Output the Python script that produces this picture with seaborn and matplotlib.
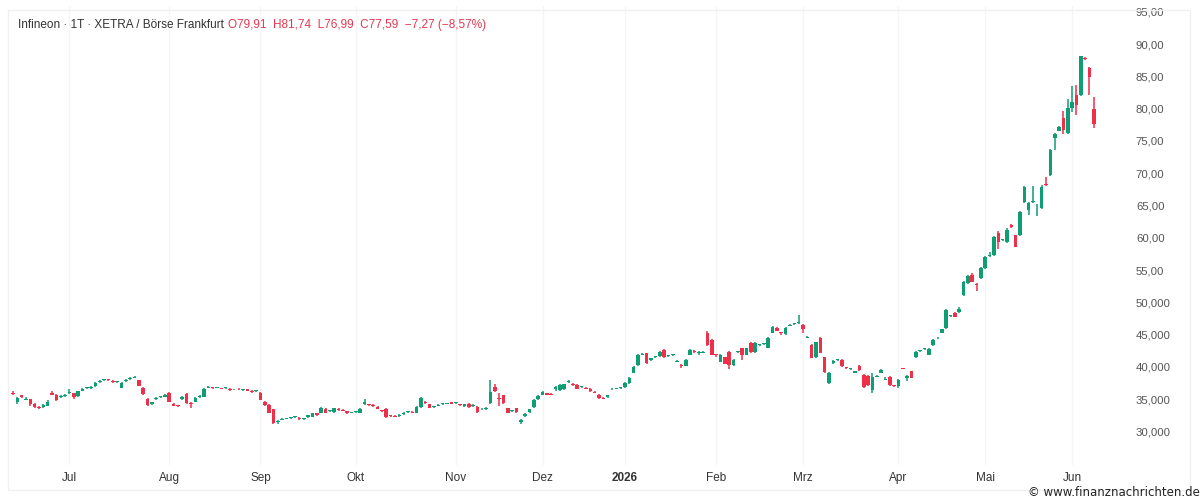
import numpy as np
import pandas as pd
import seaborn as sns
import matplotlib.pyplot as plt
from matplotlib.patches import Rectangle

# Infineon daily candles, XETRA (12.06.2025 - 08.06.2026)
opens = [36.0, 34.5, 35.6, 34.9, 35.0, 34.3, 33.8, 33.8, 34.0, 36.0,
         35.7, 35.3, 35.5, 35.9, 35.9, 35.5, 36.3, 36.7, 36.8, 37.0,
         37.6, 37.9, 38.0, 37.8, 37.6, 36.8, 37.8, 38.1, 38.3, 37.9,
         36.8, 35.1, 34.3, 35.0, 35.3, 35.4, 36.0, 34.3, 34.0, 35.0,
         35.8, 34.3, 34.6, 35.3, 35.4, 36.8, 36.8, 36.8, 36.7, 36.7,
         36.6, 36.5, 36.6, 36.4, 36.5, 36.3, 36.2, 36.0, 34.6, 34.1,
         33.4, 31.4, 31.8, 32.0, 32.1, 32.2, 32.1, 31.9, 32.2, 32.3,
         32.8, 32.9, 33.5, 33.1, 33.0, 33.5, 33.3, 33.1, 32.9, 33.0,
         32.9, 34.2, 34.2, 34.1, 33.8, 33.2, 33.5, 32.5, 32.4, 32.4,
         32.7, 33.0, 33.0, 32.9, 33.8, 34.6, 34.2, 33.8, 34.0, 34.2,
         34.3, 34.5, 34.4, 34.2, 33.9, 34.3, 33.9, 33.8, 33.4, 33.4,
         34.4, 36.9, 35.2, 35.6, 33.6, 33.2, 33.6, 31.5, 32.4, 33.0,
         33.8, 35.0, 35.7, 35.9, 35.8, 36.6, 36.4, 36.5, 37.6, 37.4,
         37.2, 36.9, 36.8, 36.6, 36.1, 35.7, 35.2, 35.3, 36.5, 36.6,
         36.7, 36.9, 37.5, 39.1, 40.3, 41.9, 42.1, 41.0, 41.5, 41.7,
         42.6, 41.7, 41.8, 40.8, 40.3, 40.2, 41.9, 42.5, 42.1, 42.2,
         45.3, 44.2, 41.9, 40.8, 41.5, 42.3, 40.3, 42.3, 42.9, 41.9,
         43.7, 42.3, 43.4, 43.5, 43.0, 45.3, 46.0, 45.3, 45.1, 46.4,
         46.6, 46.8, 46.5, 44.5, 43.4, 41.5, 44.5, 41.5, 37.5, 40.6,
         41.0, 41.1, 39.9, 39.6, 39.1, 40.1, 38.8, 38.6, 36.4, 38.5,
         39.1, 38.0, 38.5, 37.1, 37.0, 39.8, 38.3, 39.3, 41.5, 42.4,
         42.7, 41.9, 43.4, 44.4, 45.3, 46.0, 47.9, 48.4, 48.5, 51.1,
         53.0, 54.3, 52.8, 53.7, 55.3, 57.2, 57.3, 60.7, 59.6, 59.3,
         61.9, 60.4, 60.4, 65.5, 64.3, 65.5, 65.0, 64.6, 68.4, 69.7,
         75.5, 76.6, 78.5, 76.2, 80.1, 82.1, 82.1, 87.8, 86.3, 79.91]
closes = [35.8, 35.2, 35.4, 35.1, 34.2, 33.8, 33.7, 34.1, 34.6, 35.7,
          34.9, 35.5, 35.7, 36.1, 35.3, 36.2, 36.6, 36.8, 36.8, 37.5,
          37.8, 38.0, 37.9, 37.6, 37.7, 37.5, 38.0, 38.3, 38.4, 37.1,
          35.8, 34.1, 34.5, 35.2, 35.3, 35.6, 34.6, 34.0, 33.9, 35.3,
          34.4, 34.2, 35.2, 35.5, 36.6, 36.9, 36.7, 36.8, 36.6, 36.8,
          36.4, 36.5, 36.5, 36.4, 36.3, 36.1, 36.2, 34.9, 34.1, 32.9,
          31.3, 31.6, 32.0, 32.0, 32.1, 32.2, 31.9, 31.9, 32.5, 32.8,
          32.5, 33.6, 32.9, 33.2, 33.6, 33.3, 33.2, 32.8, 32.9, 33.1,
          33.5, 34.5, 34.1, 33.9, 33.5, 33.1, 32.2, 32.4, 32.3, 32.6,
          32.9, 33.1, 32.9, 33.8, 35.2, 34.4, 33.7, 33.8, 34.1, 34.3,
          34.3, 34.3, 34.4, 34.1, 34.2, 33.8, 34.1, 33.0, 33.5, 33.7,
          36.1, 36.2, 35.0, 34.4, 32.9, 33.2, 33.0, 31.8, 32.7, 33.4,
          34.9, 35.5, 36.1, 35.7, 35.7, 36.9, 37.2, 37.3, 37.7, 37.2,
          36.6, 36.9, 36.6, 36.2, 36.0, 35.2, 35.1, 35.6, 36.6, 36.6,
          36.8, 37.5, 38.3, 40.0, 41.9, 42.0, 40.6, 41.3, 41.5, 42.3,
          41.5, 41.7, 41.9, 40.8, 40.2, 41.1, 42.6, 42.3, 42.1, 42.3,
          43.4, 41.9, 41.8, 41.9, 40.5, 40.3, 41.1, 42.4, 41.9, 42.9,
          42.3, 43.7, 43.4, 43.5, 44.5, 46.2, 45.6, 45.2, 46.0, 46.5,
          46.7, 46.8, 45.9, 44.6, 41.4, 43.8, 42.2, 39.2, 39.1, 40.9,
          41.1, 40.1, 39.8, 39.6, 39.3, 39.5, 36.9, 37.2, 38.5, 38.6,
          39.5, 38.1, 37.2, 37.0, 38.0, 39.7, 38.6, 38.3, 42.3, 42.5,
          42.8, 42.8, 44.2, 44.5, 45.8, 48.8, 48.0, 47.8, 49.0, 53.2,
          54.0, 53.2, 52.7, 55.3, 57.0, 57.3, 60.1, 59.3, 59.6, 61.2,
          61.7, 58.6, 64.0, 67.9, 65.4, 65.6, 65.1, 67.9, 68.2, 73.6,
          76.0, 77.2, 76.7, 80.1, 81.0, 80.6, 88.1, 87.7, 84.86, 77.59]
highs = [36.2, 35.4, 35.7, 35.3, 35.1, 34.4, 34.0, 34.2, 34.8, 36.2,
         35.8, 35.6, 35.8, 36.6, 36.0, 36.3, 36.7, 36.9, 37.0, 37.6,
         37.9, 38.1, 38.1, 37.9, 37.8, 37.6, 38.1, 38.4, 38.6, 38.0,
         36.9, 35.2, 34.6, 35.3, 35.5, 35.8, 36.1, 34.4, 34.1, 35.5,
         35.9, 34.5, 35.3, 35.6, 36.7, 37.0, 36.9, 36.9, 36.8, 36.9,
         36.7, 36.6, 36.7, 36.5, 36.6, 36.4, 36.3, 36.1, 34.7, 34.2,
         33.5, 31.8, 32.1, 32.1, 32.2, 32.4, 32.2, 32.0, 32.6, 32.9,
         32.9, 33.8, 33.6, 33.3, 33.7, 33.6, 33.4, 33.2, 33.0, 33.2,
         33.6, 35.0, 34.3, 34.2, 33.9, 33.3, 33.6, 32.6, 32.5, 32.7,
         33.0, 33.2, 33.1, 33.9, 35.3, 34.7, 34.3, 33.9, 34.2, 34.4,
         34.4, 34.6, 34.5, 34.3, 34.3, 34.4, 34.2, 33.9, 33.6, 33.8,
         38.0, 37.3, 36.0, 35.7, 33.7, 33.3, 33.7, 32.0, 32.8, 33.5,
         35.0, 35.6, 36.2, 36.0, 35.9, 37.0, 37.3, 37.4, 37.9, 37.5,
         37.3, 37.0, 36.9, 36.7, 36.2, 35.8, 35.3, 35.7, 36.7, 36.7,
         36.9, 37.6, 38.4, 40.1, 42.0, 42.2, 42.2, 41.4, 41.6, 42.4,
         42.7, 41.9, 42.0, 41.0, 40.5, 41.2, 42.7, 42.6, 42.5, 42.4,
         45.5, 44.3, 42.0, 42.0, 41.6, 42.4, 41.2, 42.5, 43.0, 43.0,
         43.8, 43.8, 43.5, 43.6, 44.6, 46.3, 46.1, 45.4, 46.1, 46.6,
         46.8, 48.0, 46.6, 44.8, 43.5, 43.9, 44.7, 41.6, 39.2, 41.0,
         41.2, 41.2, 40.0, 39.7, 39.4, 40.3, 38.9, 38.7, 39.0, 38.8,
         39.6, 38.5, 38.6, 37.2, 38.1, 39.9, 38.8, 39.4, 42.4, 42.6,
         43.0, 42.9, 44.3, 44.6, 45.9, 48.9, 48.1, 48.5, 49.2, 53.3,
         54.2, 54.5, 53.0, 55.4, 57.1, 57.8, 60.2, 61.1, 59.7, 61.5,
         62.2, 60.5, 64.1, 68.0, 65.5, 68.0, 65.2, 68.1, 69.4, 73.7,
         76.2, 77.3, 79.7, 81.5, 83.5, 83.6, 88.2, 88.0, 86.5, 81.74]
lows = [35.6, 34.3, 35.2, 34.8, 34.0, 33.6, 33.5, 33.7, 33.9, 35.6,
        34.7, 35.2, 35.4, 35.8, 35.1, 35.4, 36.2, 36.5, 36.6, 36.9,
        37.5, 37.8, 37.8, 37.5, 37.5, 36.7, 37.7, 38.0, 38.2, 37.0,
        35.7, 33.9, 34.1, 34.9, 35.2, 35.3, 34.5, 33.9, 33.8, 34.9,
        34.3, 33.6, 34.5, 35.2, 35.3, 36.7, 36.6, 36.7, 36.5, 36.6,
        36.3, 36.4, 36.4, 36.3, 36.2, 36.0, 36.1, 34.8, 34.0, 32.8,
        31.1, 31.2, 31.7, 31.9, 32.0, 32.1, 31.8, 31.8, 32.1, 32.2,
        32.4, 32.8, 32.8, 33.0, 32.9, 33.2, 33.1, 32.7, 32.8, 32.9,
        32.8, 34.1, 34.0, 33.8, 33.4, 33.0, 32.1, 32.3, 32.2, 32.3,
        32.6, 32.9, 32.8, 32.8, 33.7, 34.2, 33.6, 33.7, 33.9, 34.1,
        34.2, 34.2, 34.3, 34.0, 33.8, 33.7, 33.8, 32.9, 33.3, 33.3,
        34.3, 36.1, 33.9, 34.3, 32.8, 33.0, 32.9, 31.1, 32.3, 32.9,
        33.7, 34.9, 35.6, 35.6, 35.6, 36.3, 36.3, 36.4, 37.5, 37.1,
        36.5, 36.8, 36.5, 36.1, 35.9, 35.1, 35.0, 35.2, 36.4, 36.5,
        36.6, 36.8, 37.4, 39.0, 40.2, 41.8, 40.5, 40.9, 41.4, 41.6,
        41.4, 41.6, 41.7, 40.7, 39.8, 40.1, 41.8, 42.2, 41.8, 42.1,
        43.3, 41.8, 41.6, 40.7, 40.4, 39.6, 40.2, 42.2, 41.0, 41.8,
        42.2, 42.2, 43.3, 43.4, 42.9, 45.2, 45.5, 45.0, 45.0, 46.3,
        46.5, 46.6, 45.2, 44.4, 41.3, 41.4, 42.1, 39.1, 37.4, 40.5,
        40.9, 40.0, 39.7, 39.5, 39.0, 39.4, 36.8, 37.1, 36.0, 38.4,
        39.0, 37.9, 37.0, 36.9, 36.8, 39.6, 37.8, 38.2, 41.4, 42.3,
        42.6, 41.8, 43.3, 44.3, 45.2, 45.9, 47.8, 47.7, 48.4, 51.0,
        52.9, 53.1, 51.8, 53.6, 55.2, 57.0, 57.2, 58.3, 59.5, 59.2,
        61.5, 58.5, 60.3, 65.4, 63.5, 65.4, 63.4, 64.5, 68.0, 69.6,
        73.6, 76.5, 76.0, 76.1, 79.5, 79.0, 82.0, 87.5, 82.1, 76.99]

month_labels = ["Jul", "Aug", "Sep", "Okt", "Nov", "Dez", "2026",
                "Feb", "Mrz", "Apr", "Mai", "Jun"]
price_ticks = [30, 35, 40, 45, 50, 55, 60, 65, 70, 75, 80, 85, 90, 95]
price_labels = ["30,000", "35,000", "40,000", "45,000", "50,000", "55,00",
                "60,00", "65,00", "70,00", "75,00", "80,00", "85,00",
                "90,00", "95,00"]
holidays = ["2025-12-24", "2025-12-25", "2025-12-26", "2025-12-31",
            "2026-01-01", "2026-04-03", "2026-04-06", "2026-05-01"]

days = pd.bdate_range("2025-06-12", "2026-06-08")
days = days[~days.isin(pd.to_datetime(holidays))][:len(closes)]

df = pd.DataFrame({"date": days, "open": opens, "close": closes,
                   "high": highs, "low": lows})
df["x"] = np.arange(len(df))
df["up"] = df["close"] >= df["open"]

GREEN = "#0f9d74"
RED = "#ee2f4a"

sns.set_theme(style="white")
plt.rcParams["font.family"] = ["Liberation Sans", "DejaVu Sans"]

fig = plt.figure(figsize=(12, 5.01), dpi=100)
ax = fig.add_axes([8 / 1200, 36 / 501, 1114 / 1200, 459 / 501])

colors = np.where(df["up"], GREEN, RED)
ax.vlines(df["x"], df["low"], df["high"], colors=colors, linewidth=1.1, zorder=2)
body_low = df[["open", "close"]].min(axis=1)
body_h = (df["close"] - df["open"]).abs().clip(lower=0.15)
ax.bar(df["x"], body_h, bottom=body_low, width=0.82, color=colors,
       linewidth=0, zorder=3)

# month ticks at first trading day of each month
firsts = df.groupby(df["date"].dt.to_period("M"))["x"].min().iloc[1:]
ax.set_xticks(firsts.values)
ax.set_xticklabels(month_labels[:len(firsts)])
for t in ax.get_xticklabels():
    if t.get_text() == "2026":
        t.set_fontweight("bold")
ax.set_xlim(-1.15, 255.5)
ax.set_ylim(24.8, 95.9)

ax.yaxis.tick_right()
ax.set_yticks(price_ticks)
ax.set_yticklabels(price_labels)
ax.tick_params(axis="y", length=0, pad=10, labelsize=8.2, labelcolor="#555555")
ax.tick_params(axis="x", length=0, pad=5, labelsize=8.5, labelcolor="#333333")
ax.grid(True, axis="x", color="#f4f5f7", linewidth=1)
ax.grid(False, axis="y")
ax.set_axisbelow(True)
for s in ax.spines.values():
    s.set_visible(False)

fig.patches.append(Rectangle((8 / 1200, 11 / 501), 1182 / 1200, 480 / 501,
                             transform=fig.transFigure, fill=False,
                             edgecolor="#f0f0f0", linewidth=1))

head = fig.text(18 / 1200, 1 - 25 / 501,
                "Infineon · 1T · XETRA / Börse Frankfurt",
                fontsize=8.5, color="#333333", va="center")
ax.annotate("O79,91  H81,74  L76,99  C77,59  −7,27 (−8,57%)",
            xy=(1, 0.5), xycoords=head, xytext=(3, 0),
            textcoords="offset points", va="center", ha="left",
            fontsize=8.5, color="#e5384f", annotation_clip=False)
fig.text(1200 / 1200, 1 - 493 / 501, "© www.finanznachrichten.de",
         fontsize=8.5, color="#222222", ha="right", va="center",
         family=["DejaVu Sans"])

fig.savefig("out.png", dpi=100)
